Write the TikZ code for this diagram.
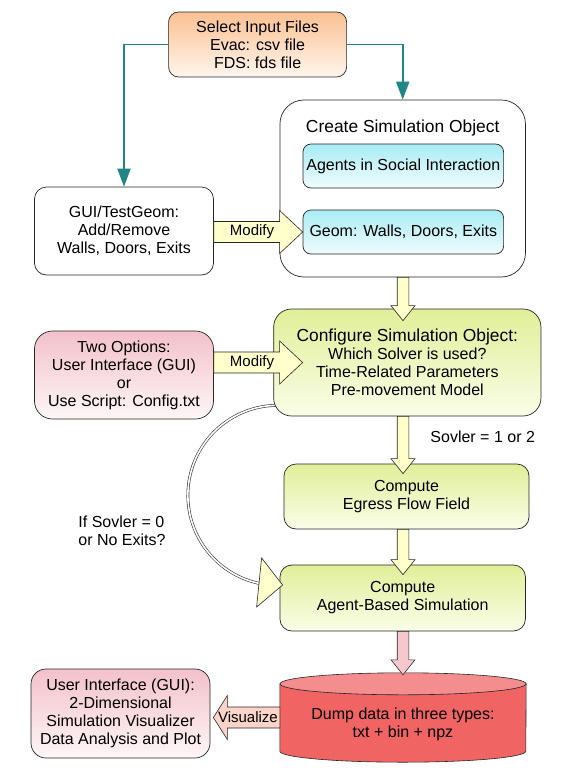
\documentclass[tikz,border=0pt]{standalone}
\usepackage{fontspec}
\setmainfont{Liberation Sans}
\usetikzlibrary{calc, arrows.meta, backgrounds}
\definecolor{tealline}{RGB}{32, 133, 133}
\definecolor{selorange}{RGB}{250, 192, 146}
\definecolor{selpale}{RGB}{255, 246, 238}
\definecolor{agentcyan}{RGB}{168, 236, 244}
\definecolor{cyanpale}{RGB}{240, 252, 253}
\definecolor{confgreen}{RGB}{224, 239, 152}
\definecolor{confpale}{RGB}{250, 253, 232}
\definecolor{optpink}{RGB}{243, 193, 203}
\definecolor{pinkpale}{RGB}{253, 246, 247}
\definecolor{arrowyellow}{RGB}{255, 255, 204}
\definecolor{arrowpink}{RGB}{246, 200, 205}
\definecolor{vispink}{RGB}{250, 212, 200}
\definecolor{dumpred}{RGB}{240, 100, 100}
\definecolor{dumptop}{RGB}{244, 142, 142}

% block arrows: start, tip, fill
\newcommand{\flowdown}[3]{%
  \draw[blockline, fill=#3] ($(#1)+(-5.8,0)$) -- ($(#2)+(-5.8,-15)$) -- ($(#2)+(-12,-15)$)
    -- (#2) -- ($(#2)+(12,-15)$) -- ($(#2)+(5.8,-15)$) -- ($(#1)+(5.8,0)$) -- cycle;}
\newcommand{\flowright}[3]{%
  \draw[blockline, fill=#3] ($(#1)+(0,-10.5)$) -- ($(#2)+(-23,-10.5)$) -- ($(#2)+(-23,-21.5)$)
    -- (#2) -- ($(#2)+(-23,21.5)$) -- ($(#2)+(-23,10.5)$) -- ($(#1)+(0,10.5)$) -- cycle;}
\newcommand{\flowleft}[3]{%
  \draw[blockline, fill=#3] ($(#1)+(0,-10.5)$) -- ($(#2)+(14,-10.5)$) -- ($(#2)+(14,-22)$)
    -- (#2) -- ($(#2)+(14,22)$) -- ($(#2)+(14,10.5)$) -- ($(#1)+(0,10.5)$) -- cycle;}

\begin{document}
\begin{tikzpicture}[x=1pt, y=-1pt,
  box/.style={draw=black!85, line width=0.7pt, rounded corners=#1, align=center,
    inner sep=0pt, font=\fontsize{16}{18}\selectfont},
  box/.default=12pt,
  txt/.style={align=center, inner sep=0pt, font=\fontsize{16}{18}\selectfont},
  arrowlbl/.style={inner sep=0pt, font=\fontsize{15}{18}\selectfont},
  blockline/.style={draw=black!85, line width=0.6pt},
  flow/.style={draw=tealline, line width=1.8pt, -{Triangle[length=18pt, width=13pt]}},
  loopline/.style={draw=black!80, line width=0.6pt, double=white, double distance=1.6pt}]
  \useasboundingbox (0, 0) rectangle (566, 777);
  \coordinate (spine) at (403, 0);

  % input and geometry
  \node[box=10pt, minimum width=178pt, minimum height=65pt, top color=selorange, bottom color=selpale]
    (sel) at (257.6, 44.5) {Select Input Files\\Evac: csv file\\FDS: fds file};
  \node[box, minimum width=179pt, minimum height=88pt, fill=white]
    (gui) at (124, 231) {GUI/TestGeom:\\Add/Remove\\Walls, Doors, Exits};
  \node[box=24pt, minimum width=245.5pt, minimum height=177pt, fill=white] (create) at (402.7, 188.5) {};
  \node[txt, font=\fontsize{17.4}{18}\selectfont] (createtitle) at ($(create.north)+(0,28)$) {Create Simulation Object};
  \node[box=8pt, minimum width=200.6pt, minimum height=44pt, top color=agentcyan, bottom color=cyanpale]
    (agents) at (403.3, 166) {Agents in Social Interaction};
  \node[box=8pt, minimum width=200.6pt, minimum height=44pt, top color=agentcyan, bottom color=cyanpale]
    (geom) at (403.3, 232) {Geom: Walls, Doors, Exits};
  \draw[flow] (sel.west) -| (gui.north);
  \draw[flow] (sel.east) -| (create.north);

  % configuration and solvers
  \node[box=18pt, minimum width=179pt, minimum height=88pt, top color=optpink, bottom color=pinkpale]
    (opts) at (124, 375) {Two Options:\\User Interface (GUI)\\or\\Use Script: Config.txt};
  \node[box=18pt, minimum width=267.3pt, minimum height=107pt, top color=confgreen, bottom color=confpale]
    (config) at (407.3, 362.5) {\fontsize{17.4}{18}\selectfont Configure Simulation Object:\\
      Which Solver is used?\\Time-Related Parameters\\Pre-movement Model};
  \node[box, minimum width=245pt, minimum height=65pt, top color=confgreen, bottom color=confpale]
    (egress) at (406.5, 496.5) {Compute\\Egress Flow Field};
  \node[box, minimum width=245.5pt, minimum height=66pt, top color=confgreen, bottom color=confpale]
    (abs) at (402.7, 598) {Compute\\Agent-Based Simulation};
  \begin{scope}[on background layer]
    \draw[loopline] ($(config.south west)+(3,-11)$) arc[start angle=91, end angle=262, radius=90pt];
  \end{scope}
  \draw[blockline, fill=arrowyellow] ($(abs.west)+(-18,-40)$) -- ($(abs.west)+(3,-13)$) -- ($(abs.west)+(-23,9)$) -- cycle;

  % output
  \node[inner sep=0pt, minimum width=246pt, minimum height=89pt] (dump) at (403, 717.5) {};
  \draw[blockline, fill=dumpred] ($(dump.north west)+(0,11)$) -- ($(dump.south west)+(0,-11)$)
    arc[start angle=180, end angle=360, x radius=123pt, y radius=11pt] -- ($(dump.north east)+(0,11)$) -- cycle;
  \draw[blockline, fill=dumptop] ($(dump.north)+(0,11)$) ellipse[x radius=123pt, y radius=11pt];
  \node[txt] (dumptxt) at ($(dump.center)+(0,6.5)$) {Dump data in three types:\\txt + bin + npz};
  \node[box=15pt, minimum width=179pt, minimum height=89pt, top color=optpink, bottom color=pinkpale]
    (ui) at (120.5, 713.5) {User Interface (GUI):\\2-Dimensional\\Simulation Visualizer\\Data Analysis and Plot};

  % block arrows
  \path (spine |- create.south) coordinate (d1s) (spine |- config.north) ++(0,12) coordinate (d1t);
  \path (spine |- config.south) coordinate (d2s) (spine |- egress.north) ++(0,10) coordinate (d2t);
  \path (spine |- egress.south) coordinate (d3s) (spine |- abs.north) ++(0,10) coordinate (d3t);
  \path (spine |- abs.south) coordinate (d4s) (spine |- dump.north) ++(0,2) coordinate (d4t);
  \flowdown{d1s}{d1t}{arrowyellow}
  \flowdown{d2s}{d2t}{arrowyellow}
  \flowdown{d3s}{d3t}{arrowyellow}
  \flowdown{d4s}{d4t}{arrowpink}
  \path (gui.east |- geom.west) coordinate (m1s);
  \path (opts.east |- config.west) coordinate (m2s) (config.west) ++(29.3,0) coordinate (m2t);
  \path (dump.west -| ui.east) ++(3,0) coordinate (vt);
  \flowright{m1s}{geom.west}{arrowyellow}
  \flowright{m2s}{m2t}{arrowyellow}
  \flowleft{dump.west}{vt}{vispink}
  \node[arrowlbl] (mod1) at ($(m1s)!0.43!(geom.west)$) {Modify};
  \node[arrowlbl] (mod2) at ($(m2s)!0.43!(m2t)$) {Modify};
  \node[arrowlbl] (vis) at ($(dump.west)!0.48!(vt)$) {Visualize};

  % labels
  \node[txt] (solverlbl) at (482.7, 437) {Sovler = 1 or 2};
  \node[txt, align=left] (exitlbl) at (122, 531) {If Sovler = 0\\or No Exits?};
\end{tikzpicture}
\end{document}
